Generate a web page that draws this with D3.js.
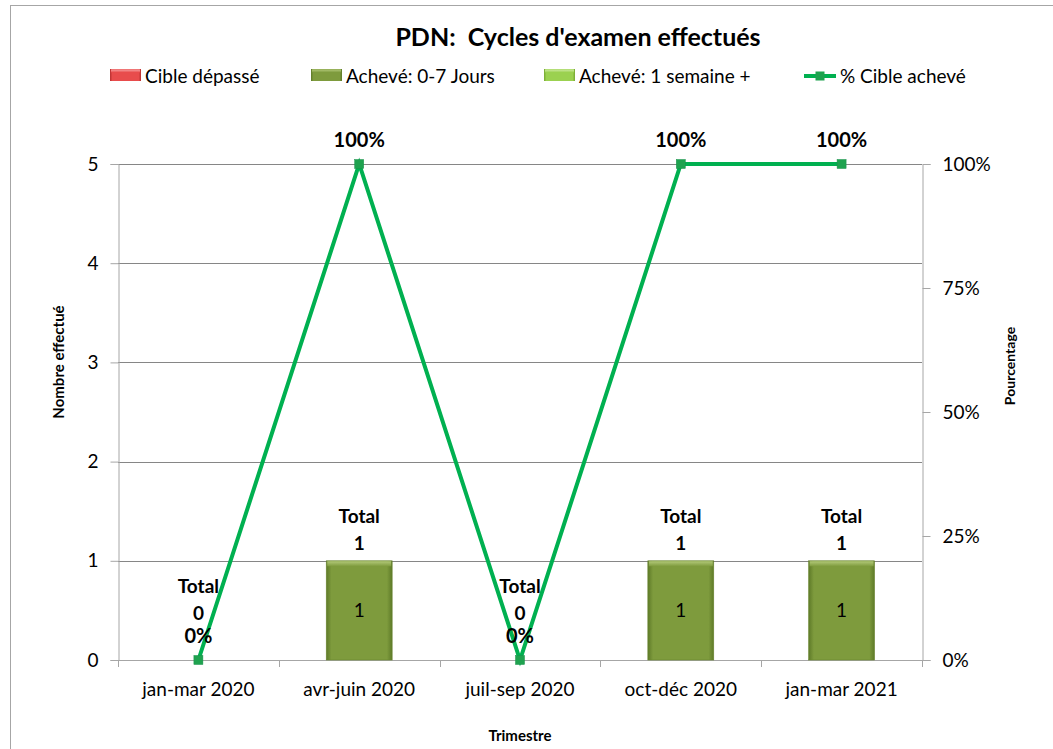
<!DOCTYPE html>
<html>
<head>
<meta charset="utf-8">
<script src="https://cdn.jsdelivr.net/npm/d3@7"></script>
<style>
  body { margin: 0; background: #fff; }
  text { font-family: Lato, "Open Sans", sans-serif; fill: #000; }
</style>
</head>
<body>
<div id="chart"></div>
<script>
(function () {

  // Data
  const quarters = ["jan-mar 2020", "avr-juin 2020", "juil-sep 2020", "oct-déc 2020", "jan-mar 2021"];
  const cibleDepasse = [0, 0, 0, 0, 0];
  const acheve07 = [0, 1, 0, 1, 1];
  const acheve1Sem = [0, 0, 0, 0, 0];
  const pctCible = [0, 100, 0, 100, 100];
  const leftTicks = [0, 1, 2, 3, 4, 5];
  const rightTicks = [0, 25, 50, 75, 100];

  const W = 1053, H = 749;
  const plot = { left: 118, right: 922, top: 164, bottom: 660 };

  const svg = d3.select("#chart").append("svg")
    .attr("width", W)
    .attr("height", H);

  const defs = svg.append("defs");
  function bevel(id, base, light, dark) {
    const g = defs.append("linearGradient").attr("id", id)
      .attr("x1", 0).attr("x2", 1).attr("y1", 0).attr("y2", 0);
    g.append("stop").attr("offset", "0%").attr("stop-color", dark);
    g.append("stop").attr("offset", "8%").attr("stop-color", base);
    g.append("stop").attr("offset", "92%").attr("stop-color", base);
    g.append("stop").attr("offset", "100%").attr("stop-color", dark);
    const t = defs.append("linearGradient").attr("id", id + "-top")
      .attr("x1", 0).attr("x2", 0).attr("y1", 0).attr("y2", 1);
    t.append("stop").attr("offset", "0%").attr("stop-color", light);
    t.append("stop").attr("offset", "100%").attr("stop-color", base);
  }
  bevel("gRed", "#e84c4c", "#f7a0a0", "#b83030");
  bevel("gDark", "#7e9b3d", "#b2c878", "#5e7a28");
  bevel("gLight", "#9bd150", "#cdeaa0", "#76a832");

  // Outer chart border
  svg.append("rect")
    .attr("x", 10.5).attr("y", 5.5)
    .attr("width", 1100).attr("height", 800)
    .attr("fill", "none")
    .attr("stroke", "#a6a6a6");

  // Scales
  const x = d3.scaleBand()
    .domain(quarters)
    .range([plot.left, plot.right])
    .paddingInner(0.59)
    .paddingOuter(0.295);

  const xBand = d3.scaleBand()
    .domain(quarters)
    .range([plot.left, plot.right]);

  const y = d3.scaleLinear().domain([0, 5]).range([plot.bottom, plot.top]);
  const y2 = d3.scaleLinear().domain([0, 100]).range([plot.bottom, plot.top]);

  // Gridlines
  svg.append("g")
    .selectAll("line")
    .data(leftTicks.filter(d => d > 0))
    .enter().append("line")
    .attr("x1", plot.left).attr("x2", plot.right)
    .attr("y1", d => Math.round(y(d)) + 0.5)
    .attr("y2", d => Math.round(y(d)) + 0.5)
    .attr("stroke", "#868686");

  // Left axis
  const leftAxis = svg.append("g")
    .attr("transform", `translate(${plot.left + 0.5},0)`)
    .call(d3.axisLeft(y).tickValues(leftTicks).tickSize(8).tickPadding(12).tickFormat(d3.format("d")));
  leftAxis.select(".domain").attr("stroke", "#a6a6a6");
  leftAxis.selectAll(".tick line").attr("stroke", "#a6a6a6");
  leftAxis.selectAll("text").style("font-size", "19px").attr("fill", "#000");

  // Right axis
  const rightAxis = svg.append("g")
    .attr("transform", `translate(${plot.right + 0.5},0)`)
    .call(d3.axisRight(y2).tickValues(rightTicks).tickSize(8).tickPadding(12).tickFormat(d => d + "%"));
  rightAxis.select(".domain").attr("stroke", "#a6a6a6");
  rightAxis.selectAll(".tick line").attr("stroke", "#a6a6a6");
  rightAxis.selectAll("text").style("font-size", "19px").attr("fill", "#000");

  // Bottom axis
  svg.append("line")
    .attr("x1", plot.left).attr("x2", plot.right + 8)
    .attr("y1", plot.bottom + 0.5).attr("y2", plot.bottom + 0.5)
    .attr("stroke", "#a6a6a6");
  svg.append("g").selectAll("line")
    .data(quarters.map(q => xBand(q)).concat([plot.right]))
    .enter().append("line")
    .attr("x1", d => Math.round(d) + 0.5).attr("x2", d => Math.round(d) + 0.5)
    .attr("y1", plot.bottom).attr("y2", plot.bottom + 7)
    .attr("stroke", "#a6a6a6");
  svg.append("g").selectAll("text")
    .data(quarters)
    .enter().append("text")
    .attr("x", d => xBand(d) + xBand.bandwidth() / 2)
    .attr("y", 696)
    .attr("text-anchor", "middle")
    .style("font-size", "19px")
    .text(d => d);

  // Stacked bars
  const stackData = quarters.map((q, i) => ({
    q, a07: acheve07[i], a1s: acheve1Sem[i], cd: cibleDepasse[i]
  }));
  const stack = d3.stack().keys(["a07", "a1s", "cd"])(stackData);
  const fills = { a07: "gDark", a1s: "gLight", cd: "gRed" };

  stack.forEach(layer => {
    const g = svg.append("g");
    layer.forEach(d => {
      const h = y(d[0]) - y(d[1]);
      if (h <= 0) return;
      const bx = x(d.data.q), bw = x.bandwidth(), by = y(d[1]);
      g.append("rect")
        .attr("x", bx).attr("y", by).attr("width", bw).attr("height", h)
        .attr("fill", `url(#${fills[layer.key]})`)
        .attr("stroke", "#6a8530").attr("stroke-width", 0.6);
      g.append("rect")
        .attr("x", bx + 1).attr("y", by + 0.5).attr("width", bw - 2).attr("height", 5)
        .attr("fill", `url(#${fills[layer.key]}-top)`);
      g.append("text")
        .attr("x", bx + bw / 2)
        .attr("y", (y(d[0]) + y(d[1])) / 2 + 7)
        .attr("text-anchor", "middle")
        .style("font-size", "19px")
        .text(d[1] - d[0]);
    });
  });

  // Total labels
  const totals = quarters.map((q, i) => acheve07[i] + acheve1Sem[i] + cibleDepasse[i]);
  const totalG = svg.append("g");
  quarters.forEach((q, i) => {
    const cx = xBand(q) + xBand.bandwidth() / 2;
    const base = totals[i] === 0 ? y(0) - 40 : y(totals[i]) - 11;
    totalG.append("text")
      .attr("x", cx).attr("y", base - 27)
      .attr("text-anchor", "middle")
      .style("font-size", "19px").style("font-weight", "bold")
      .text("Total");
    totalG.append("text")
      .attr("x", cx).attr("y", base)
      .attr("text-anchor", "middle")
      .style("font-size", "19px").style("font-weight", "bold")
      .text(totals[i]);
  });

  // Line
  const line = d3.line()
    .x((d, i) => xBand(quarters[i]) + xBand.bandwidth() / 2)
    .y(d => y2(d));

  svg.append("path")
    .datum(pctCible)
    .attr("d", line)
    .attr("fill", "none")
    .attr("stroke", "#00b050")
    .attr("stroke-width", 4);

  svg.append("g").selectAll("rect")
    .data(pctCible)
    .enter().append("rect")
    .attr("x", (d, i) => xBand(quarters[i]) + xBand.bandwidth() / 2 - 4.5)
    .attr("y", d => y2(d) - 4.5)
    .attr("width", 9).attr("height", 9)
    .attr("fill", "#1fa24f")
    .attr("stroke", "#17924a").attr("stroke-width", 0.5);

  svg.append("g").selectAll("text")
    .data(pctCible)
    .enter().append("text")
    .attr("x", (d, i) => xBand(quarters[i]) + xBand.bandwidth() / 2)
    .attr("y", d => y2(d) - 17)
    .attr("text-anchor", "middle")
    .style("font-size", "20px").style("font-weight", "bold")
    .text(d => d + "%");

  // Title
  svg.append("text")
    .attr("x", 578).attr("y", 46)
    .attr("text-anchor", "middle")
    .attr("xml:space", "preserve")
    .style("white-space", "pre")
    .style("font-size", "25px").style("font-weight", "bold")
    .text("PDN:  Cycles d'examen effectués");

  // Legend
  const legendItems = [
    { label: "Cible dépassé", id: "gRed", x: 110 },
    { label: "Achevé: 0-7 Jours", id: "gDark", x: 311 },
    { label: "Achevé: 1 semaine +", id: "gLight", x: 544 }
  ];
  const legend = svg.append("g");
  legendItems.forEach(it => {
    legend.append("rect")
      .attr("x", it.x).attr("y", 69).attr("width", 31).attr("height", 12)
      .attr("fill", `url(#${it.id})`);
    legend.append("rect")
      .attr("x", it.x + 1).attr("y", 69.5).attr("width", 29).attr("height", 3)
      .attr("fill", `url(#${it.id}-top)`);
    legend.append("text")
      .attr("x", it.x + 35).attr("y", 83)
      .style("font-size", "19px")
      .text(it.label);
  });
  legend.append("line")
    .attr("x1", 804).attr("x2", 836).attr("y1", 76).attr("y2", 76)
    .attr("stroke", "#00b050").attr("stroke-width", 4);
  legend.append("rect")
    .attr("x", 815.5).attr("y", 71.5).attr("width", 9).attr("height", 9)
    .attr("fill", "#1fa24f");
  legend.append("text")
    .attr("x", 840).attr("y", 83)
    .style("font-size", "19px")
    .text("% Cible achevé");

  // Axis titles
  svg.append("text")
    .attr("transform", "translate(64,362) rotate(-90)")
    .attr("text-anchor", "middle")
    .style("font-size", "15px").style("font-weight", "bold")
    .text("Nombre effectué");

  svg.append("text")
    .attr("transform", "translate(1015,366) rotate(-90)")
    .attr("text-anchor", "middle")
    .style("font-size", "14px").style("font-weight", "bold")
    .text("Pourcentage");

  svg.append("text")
    .attr("x", 520).attr("y", 741)
    .attr("text-anchor", "middle")
    .style("font-size", "15px").style("font-weight", "bold")
    .text("Trimestre");

})();
</script>
</body>
</html>
